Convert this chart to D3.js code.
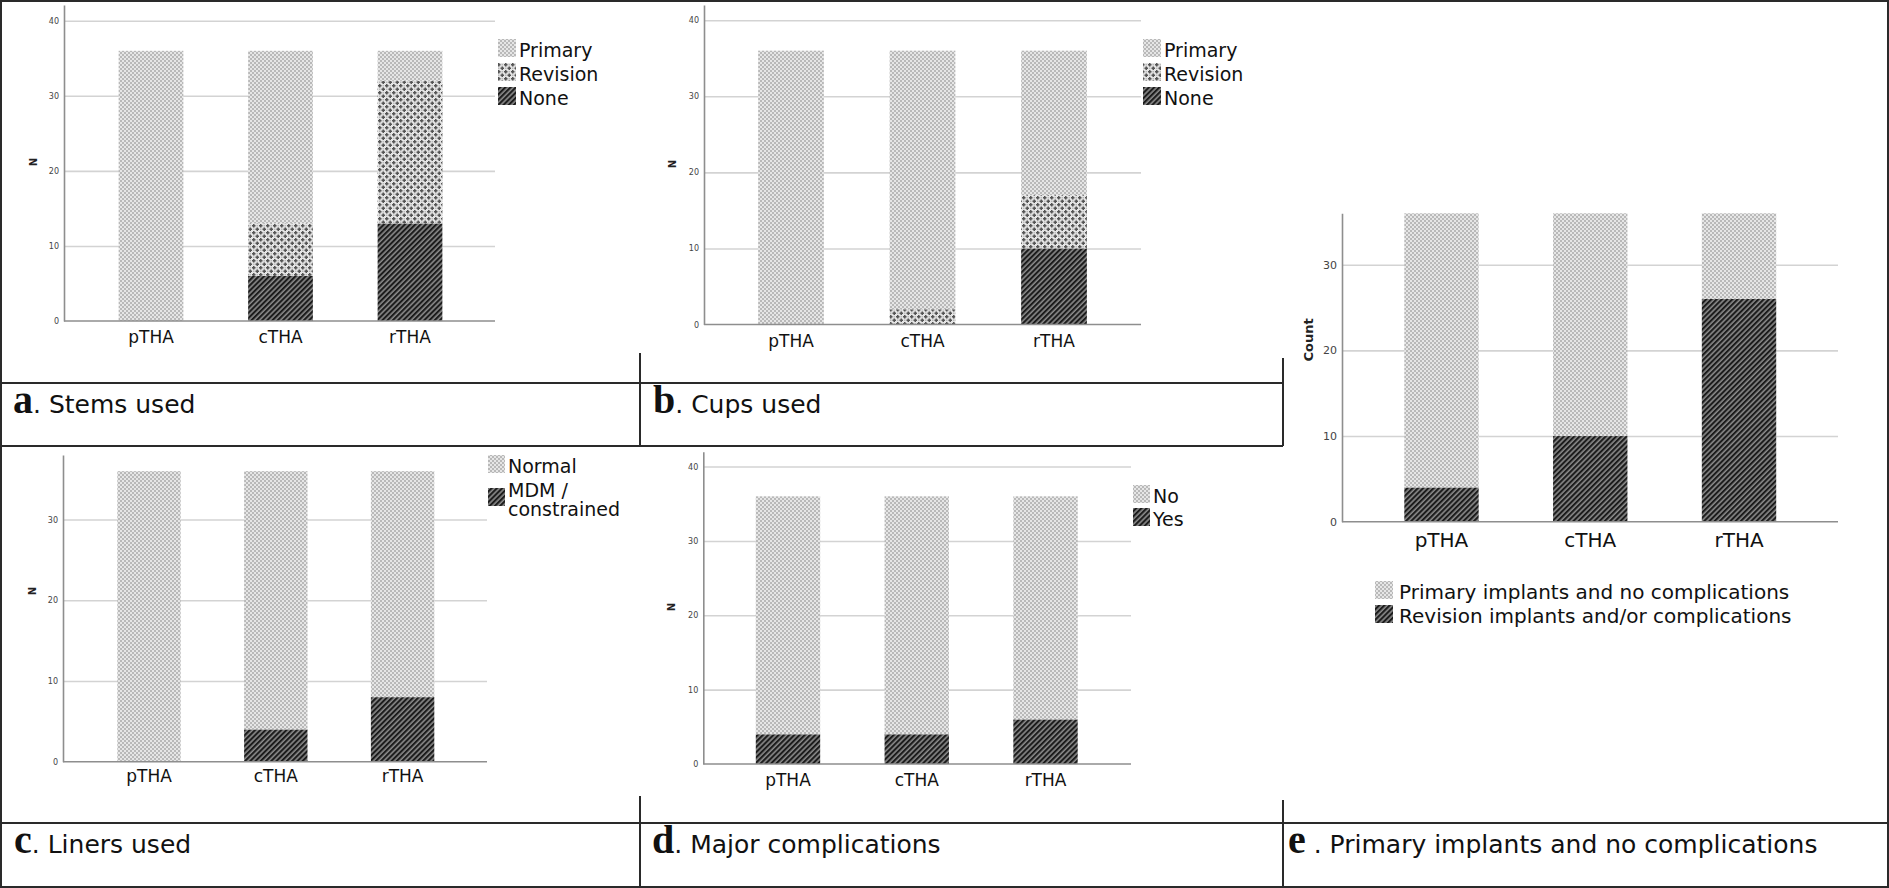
<!DOCTYPE html>
<html><head><meta charset="utf-8">
<script src="https://cdn.jsdelivr.net/npm/d3@7"></script>
<style>html,body{margin:0;padding:0;background:#fff;overflow:hidden}</style>
</head><body><svg id="chart" width="1889" height="888"></svg>
<script>
// ---------- DATA ----------
const categories = ["pTHA", "cTHA", "rTHA"];
// a. Stems used
const stemsNone = [0, 6, 13];
const stemsRevision = [0, 7, 19];
const stemsPrimary = [36, 23, 4];
// b. Cups used
const cupsNone = [0, 0, 10];
const cupsRevision = [0, 2, 7];
const cupsPrimary = [36, 34, 19];
// c. Liners used
const linersMDM = [0, 4, 8];
const linersNormal = [36, 32, 28];
// d. Major complications
const complicationsYes = [4, 4, 6];
const complicationsNo = [32, 32, 30];
// e. Primary implants and no complications
const outcomeRevision = [4, 10, 26];
const outcomePrimary = [32, 26, 10];
// tick labels
const ticks40 = [0, 10, 20, 30, 40];
const ticks30 = [0, 10, 20, 30];
// captions
const captions = [
  ["a", ". Stems used"], ["b", ". Cups used"], ["c", ". Liners used"],
  ["d", ". Major complications"], ["e", " . Primary implants and no complications"]
];

// ---------- SETUP ----------
const FONT = "'DejaVu Sans', Verdana, sans-serif";
const svg = d3.select("#chart");
const defs = svg.append("defs");

// light checker (primary / normal / no)
const pP = defs.append("pattern").attr("id", "pPrimary").attr("patternUnits", "userSpaceOnUse")
  .attr("width", 4).attr("height", 4);
pP.append("rect").attr("width", 4).attr("height", 4).attr("fill", "#e6e6e6");
pP.append("rect").attr("width", 2).attr("height", 2).attr("fill", "#b9b9b9");
pP.append("rect").attr("x", 2).attr("y", 2).attr("width", 2).attr("height", 2).attr("fill", "#b9b9b9");

// crosses (revision)
const pR = defs.append("pattern").attr("id", "pRevision").attr("patternUnits", "userSpaceOnUse")
  .attr("width", 7).attr("height", 7);
pR.append("rect").attr("width", 7).attr("height", 7).attr("fill", "#e4e4e4");
[[1.75, 1.75], [5.25, 5.25]].forEach(([cx, cy]) => {
  pR.append("rect").attr("x", cx - 0.75).attr("y", cy - 1.75).attr("width", 1.5).attr("height", 3.5).attr("fill", "#555");
  pR.append("rect").attr("x", cx - 1.75).attr("y", cy - 0.75).attr("width", 3.5).attr("height", 1.5).attr("fill", "#555");
});
[[5.25, 1.75], [1.75, 5.25]].forEach(([cx, cy]) => {
  pR.append("rect").attr("x", cx - 0.6).attr("y", cy - 0.6).attr("width", 1.2).attr("height", 1.2).attr("fill", "#aaa");
});

// dark hatch (none / MDM / yes / revision-or-complications)
const pN = defs.append("pattern").attr("id", "pNone").attr("patternUnits", "userSpaceOnUse")
  .attr("width", 3.7).attr("height", 3.7).attr("patternTransform", "rotate(45)");
pN.append("rect").attr("width", 3.7).attr("height", 3.7).attr("fill", "#8a8a8a");
pN.append("rect").attr("width", 2.1).attr("height", 3.7).attr("fill", "#1c1c1c");

// ---------- PANELS ----------
const panels = [
  { keys: ["None", "Revision", "Primary"], series: { None: stemsNone, Revision: stemsRevision, Primary: stemsPrimary },
    pattern: { None: "pNone", Revision: "pRevision", Primary: "pPrimary" },
    ticks: ticks40, axisX: 64, xEnd: 495, y0: 321, yTop: 5, yMax: 42.1, bx0: 86.25, bx1: 474.75,
    catBase: 343, catSize: 17, tickFont: 8, title: "N", titleX: 33, titleY: 162, titleSize: 10,
    legend: { x: 498, w: 18, h: 18, tx: 519, size: 19,
      items: [{ key: "Primary", lines: ["Primary"], top: 39, base: [57] },
              { key: "Revision", lines: ["Revision"], top: 63, base: [81] },
              { key: "None", lines: ["None"], top: 87, base: [105] }] } },
  { keys: ["None", "Revision", "Primary"], series: { None: cupsNone, Revision: cupsRevision, Primary: cupsPrimary },
    pattern: { None: "pNone", Revision: "pRevision", Primary: "pPrimary" },
    ticks: ticks40, axisX: 704, xEnd: 1141, y0: 324.5, yTop: 5, yMax: 42.0, bx0: 725.25, bx1: 1119.75,
    catBase: 347, catSize: 17, tickFont: 8, title: "N", titleX: 672, titleY: 164, titleSize: 10,
    legend: { x: 1143, w: 18, h: 18, tx: 1164, size: 19,
      items: [{ key: "Primary", lines: ["Primary"], top: 39, base: [57] },
              { key: "Revision", lines: ["Revision"], top: 63, base: [81] },
              { key: "None", lines: ["None"], top: 87, base: [105] }] } },
  { keys: ["MDM", "Normal"], series: { MDM: linersMDM, Normal: linersNormal },
    pattern: { MDM: "pNone", Normal: "pPrimary" },
    ticks: ticks30, axisX: 63, xEnd: 487, y0: 761.7, yTop: 455, yMax: 38.0, bx0: 85.6, bx1: 466,
    catBase: 782, catSize: 17, tickFont: 8, title: "N", titleX: 32, titleY: 591, titleSize: 10,
    legend: { x: 488, w: 17, h: 18, tx: 508, size: 19,
      items: [{ key: "Normal", lines: ["Normal"], top: 455, base: [473] },
              { key: "MDM", lines: ["MDM /", "constrained"], top: 488, base: [496.7, 516] }] } },
  { keys: ["Yes", "No"], series: { Yes: complicationsYes, No: complicationsNo },
    pattern: { Yes: "pNone", No: "pPrimary" },
    ticks: ticks40, axisX: 703.3, xEnd: 1131, y0: 764, yTop: 451.7, yMax: 42.0, bx0: 723.6, bx1: 1109.9,
    catBase: 786, catSize: 17, tickFont: 8, title: "N", titleX: 671, titleY: 607, titleSize: 10,
    legend: { x: 1133, w: 17, h: 18, tx: 1153, size: 19,
      items: [{ key: "No", lines: ["No"], top: 485, base: [503] },
              { key: "Yes", lines: ["Yes"], top: 508, base: [526] }] } },
  { keys: ["Revision", "Primary"], series: { Revision: outcomeRevision, Primary: outcomePrimary },
    pattern: { Revision: "pNone", Primary: "pPrimary" },
    ticks: ticks30, axisX: 1342, xEnd: 1838, y0: 521.7, yTop: 213.3, yMax: 36, bx0: 1367.1, bx1: 1813.4,
    catBase: 547, catSize: 20, tickFont: 11, title: "Count", titleX: 1308, titleY: 340, titleSize: 13,
    legend: { x: 1375, w: 18, h: 18, tx: 1399, size: 20,
      items: [{ key: "Primary", lines: ["Primary implants and no complications"], top: 581, base: [599] },
              { key: "Revision", lines: ["Revision implants and/or complications"], top: 605, base: [623] }] } }
];

function drawPanel(cfg) {
  const g = svg.append("g");
  const rows = categories.map((c, i) => {
    const r = { cat: c };
    cfg.keys.forEach(k => r[k] = cfg.series[k][i]);
    return r;
  });
  const stacked = d3.stack().keys(cfg.keys)(rows);
  const x = d3.scaleBand().domain(categories).range([cfg.bx0, cfg.bx1]).paddingInner(0.5).paddingOuter(0.25);
  const y = d3.scaleLinear().domain([0, cfg.yMax]).range([cfg.y0, cfg.yTop]);

  // gridlines
  g.append("g").attr("transform", `translate(${cfg.axisX},0)`)
    .call(d3.axisLeft(y).tickValues(cfg.ticks.filter(v => v > 0)).tickSize(-(cfg.xEnd - cfg.axisX)).tickFormat(""))
    .call(s => s.select(".domain").remove())
    .selectAll("line").attr("stroke", "#d3d3d3").attr("stroke-width", 1.6);

  // bars
  g.append("g").selectAll("g").data(stacked).join("g")
    .attr("fill", d => `url(#${cfg.pattern[d.key]})`)
    .selectAll("rect").data(d => d).join("rect")
    .attr("x", d => x(d.data.cat)).attr("width", x.bandwidth())
    .attr("y", d => y(d[1])).attr("height", d => y(d[0]) - y(d[1]));

  // y axis
  const ya = g.append("g").attr("transform", `translate(${cfg.axisX},0)`)
    .call(d3.axisLeft(y).tickValues(cfg.ticks).tickSize(0).tickSizeOuter(0).tickPadding(5));
  ya.select(".domain").attr("stroke", "#8e8e8e").attr("stroke-width", 1.6);
  ya.selectAll("text").attr("font-family", FONT).attr("font-size", cfg.tickFont).attr("fill", "#444");

  // baseline
  g.append("line").attr("x1", cfg.axisX).attr("x2", cfg.xEnd).attr("y1", y(0)).attr("y2", y(0))
    .attr("stroke", "#8e8e8e").attr("stroke-width", 1.6);

  // x axis category labels
  const xa = g.append("g").attr("transform", `translate(0,${y(0)})`)
    .call(d3.axisBottom(x).tickSize(0).tickSizeOuter(0));
  xa.select(".domain").remove();
  xa.selectAll("text").attr("font-family", FONT).attr("font-size", cfg.catSize).attr("fill", "#111")
    .attr("dy", null).attr("y", cfg.catBase - y(0));

  // y title
  g.append("text").attr("transform", `translate(${cfg.titleX},${cfg.titleY}) rotate(-90)`)
    .attr("text-anchor", "middle").attr("dominant-baseline", "central")
    .attr("font-family", FONT).attr("font-weight", "bold").attr("font-size", cfg.titleSize).attr("fill", "#222")
    .text(cfg.title);

  // legend
  const L = cfg.legend;
  const lg = g.append("g").selectAll("g").data(L.items).join("g");
  lg.append("rect").attr("x", L.x).attr("y", d => d.top).attr("width", L.w).attr("height", L.h)
    .attr("fill", d => `url(#${cfg.pattern[d.key]})`);
  lg.each(function (d) {
    d.lines.forEach((ln, i) => {
      d3.select(this).append("text").attr("x", L.tx).attr("y", d.base[i])
        .attr("font-family", FONT).attr("font-size", L.size).attr("fill", "#111").text(ln);
    });
  });
}
panels.forEach(drawPanel);

// ---------- FRAME ----------
const frame = svg.append("g").attr("stroke", "#2a2a2a").attr("stroke-width", 2).attr("fill", "none");
frame.append("rect").attr("x", 1).attr("y", 1).attr("width", 1887).attr("height", 886);
[[0, 383, 1283, 383], [0, 446, 1283, 446], [0, 823, 1889, 823],
 [640, 353, 640, 446], [1283, 358, 1283, 446], [640, 796, 640, 888], [1283, 800, 1283, 888]]
  .forEach(([x1, y1, x2, y2]) => frame.append("line").attr("x1", x1).attr("y1", y1).attr("x2", x2).attr("y2", y2));

// ---------- CAPTIONS ----------
const capPos = [[13, 413], [653, 413], [14, 853], [652, 853], [1288, 853]];
captions.forEach(([letter, rest], i) => {
  const t = svg.append("text").attr("x", capPos[i][0]).attr("y", capPos[i][1]).attr("fill", "#111");
  t.append("tspan").attr("font-family", "'Liberation Serif', 'Times New Roman', serif").attr("font-weight", "bold")
    .attr("font-size", 40).text(letter);
  t.append("tspan").attr("font-family", FONT).attr("font-size", 25).text(rest);
});
</script>
</body></html>
